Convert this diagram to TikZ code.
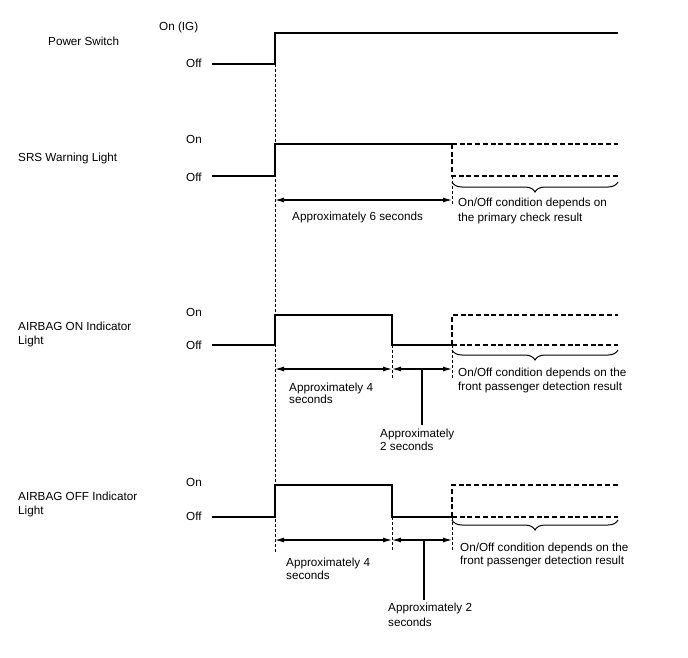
\documentclass[tikz,border=0pt]{standalone}
\usepackage{fontspec}
\setmainfont{Liberation Sans}
\usetikzlibrary{arrows.meta,positioning,calc,decorations.pathreplacing}

\begin{document}
\begin{tikzpicture}[
        x=1pt, y=-1pt,
        lbl/.style={anchor=base west, inner sep=0pt, font=\fontsize{11.7}{14}\selectfont},
        sig/.style={line width=2.7pt, line join=miter},
        sigdash/.style={line width=2.7pt, dash pattern=on 5pt off 2.7pt},
        guide/.style={line width=0.6pt, dash pattern=on 3pt off 2pt},
        dim/.style={line width=1.1pt, {Latex[length=9pt,width=5pt]}-{Latex[length=9pt,width=5pt]}},
        lead/.style={line width=1.1pt},
        brc/.style={line width=1pt, decorate, decoration={brace, mirror, amplitude=10pt}}
    ]

    \useasboundingbox (0,0) rectangle (688,658);

    \def\tStart{212} % signals start
    \def\tOn{275}    % power switch on
    \def\tFall{392}  % indicator goes off
    \def\tChk{452}   % end of check
    \def\tEnd{618}   % signals end

    % Power Switch
    \node[lbl] (pwlbl) at (48,46) {Power Switch};
    \node[lbl] (pwon) at (159,31) {On (IG)};
    \node[lbl] (pwoff) at (186,68) {Off};
    \draw[sig] (\tStart,64) -- (\tOn,64) -- (\tOn,33) -- (\tEnd,33);

    % common start line
    \draw[guide] (\tOn,64) -- (\tOn,552);

    % SRS Warning Light
    \node[lbl] (srslbl) at (18,161) {SRS Warning Light};
    \node[lbl] (srson) at (186,144) {On};
    \node[lbl] (srsoff) at (186,181) {Off};
    \draw[sig] (\tStart,176) -- (\tOn,176) -- (\tOn,144) -- (\tChk,144);
    \draw[sigdash] (\tChk,144) -- (\tEnd,144);
    \draw[sigdash] (\tChk,144) -- (\tChk,176) -- (\tEnd,176);
    \draw[guide] (\tChk,176) -- (\tChk,205);
    \coordinate (srsA) at (\tOn,200);
    \coordinate (srsB) at (\tChk,200);
    \draw[dim] (srsA) -- (srsB);
    \draw[brc] (\tChk,182) -- (\tEnd,182);
    \node[lbl] (srstime) at (292,220) {Approximately 6 seconds};
    \node[lbl] (srsnote1) at (458,206) {On/Off condition depends on};
    \node[lbl] (srsnote2) at (458,221) {the primary check result};

    % AIRBAG ON Indicator Light
    \node[lbl] (onlbl1) at (18,330) {AIRBAG ON Indicator};
    \node[lbl] (onlbl2) at (18,344) {Light};
    \node[lbl] (onon) at (186,316) {On};
    \node[lbl] (onoff) at (186,349) {Off};
    \draw[sig] (\tStart,345) -- (\tOn,345) -- (\tOn,315) -- (\tFall,315) -- (\tFall,345) -- (\tChk,345);
    \draw[sigdash] (\tChk,345) -- (\tChk,315) -- (\tEnd,315);
    \draw[sigdash] (\tChk,345) -- (\tEnd,345);
    \draw[guide] (\tFall,345) -- (\tFall,378);
    \draw[guide] (\tChk,345) -- (\tChk,378);
    \coordinate (onA) at (\tOn,369);
    \coordinate (onB) at (\tFall,369);
    \coordinate (onC) at (\tChk,369);
    \coordinate (onlead) at (422,369);
    \draw[dim] (onA) -- (onB);
    \draw[dim] (onB) -- (onC);
    \draw[brc] (\tChk,350) -- (\tEnd,350);
    \node[lbl] (ontime1) at (289,391) {Approximately 4};
    \node[lbl] (ontime2) at (289,403) {seconds};
    \node[lbl] (ongap1) at (380,437) {Approximately};
    \node[lbl] (ongap2) at (380,450) {2 seconds};
    \draw[lead, shorten >=3pt] (onlead) -- (onlead |- ongap1.north);
    \node[lbl] (onnote1) at (458,376) {On/Off condition depends on the};
    \node[lbl] (onnote2) at (458,390) {front passenger detection result};

    % AIRBAG OFF Indicator Light
    \node[lbl] (offlbl1) at (18,500) {AIRBAG OFF Indicator};
    \node[lbl] (offlbl2) at (18,514) {Light};
    \node[lbl] (offon) at (186,486) {On};
    \node[lbl] (offoff) at (186,520) {Off};
    \draw[sig] (\tStart,517) -- (\tOn,517) -- (\tOn,485) -- (\tFall,485) -- (\tFall,517) -- (\tChk,517);
    \draw[sigdash] (\tChk,517) -- (\tChk,485) -- (\tEnd,485);
    \draw[sigdash] (\tChk,517) -- (\tEnd,517);
    \draw[guide] (\tFall,517) -- (\tFall,550);
    \draw[guide] (\tChk,517) -- (\tChk,550);
    \coordinate (offA) at (\tOn,540);
    \coordinate (offB) at (\tFall,540);
    \coordinate (offC) at (\tChk,540);
    \coordinate (offlead) at (424,540);
    \draw[dim] (offA) -- (offB);
    \draw[dim] (offB) -- (offC);
    \draw[brc] (\tChk,520) -- (\tEnd,520);
    \node[lbl] (offtime1) at (286,566) {Approximately 4};
    \node[lbl] (offtime2) at (286,579) {seconds};
    \node[lbl] (offgap1) at (388,611) {Approximately 2};
    \node[lbl] (offgap2) at (388,626) {seconds};
    \draw[lead, shorten >=2pt] (offlead) -- (offlead |- offgap1.north);
    \node[lbl] (offnote1) at (460,551) {On/Off condition depends on the};
    \node[lbl] (offnote2) at (460,564) {front passenger detection result};

\end{tikzpicture}
\end{document}
